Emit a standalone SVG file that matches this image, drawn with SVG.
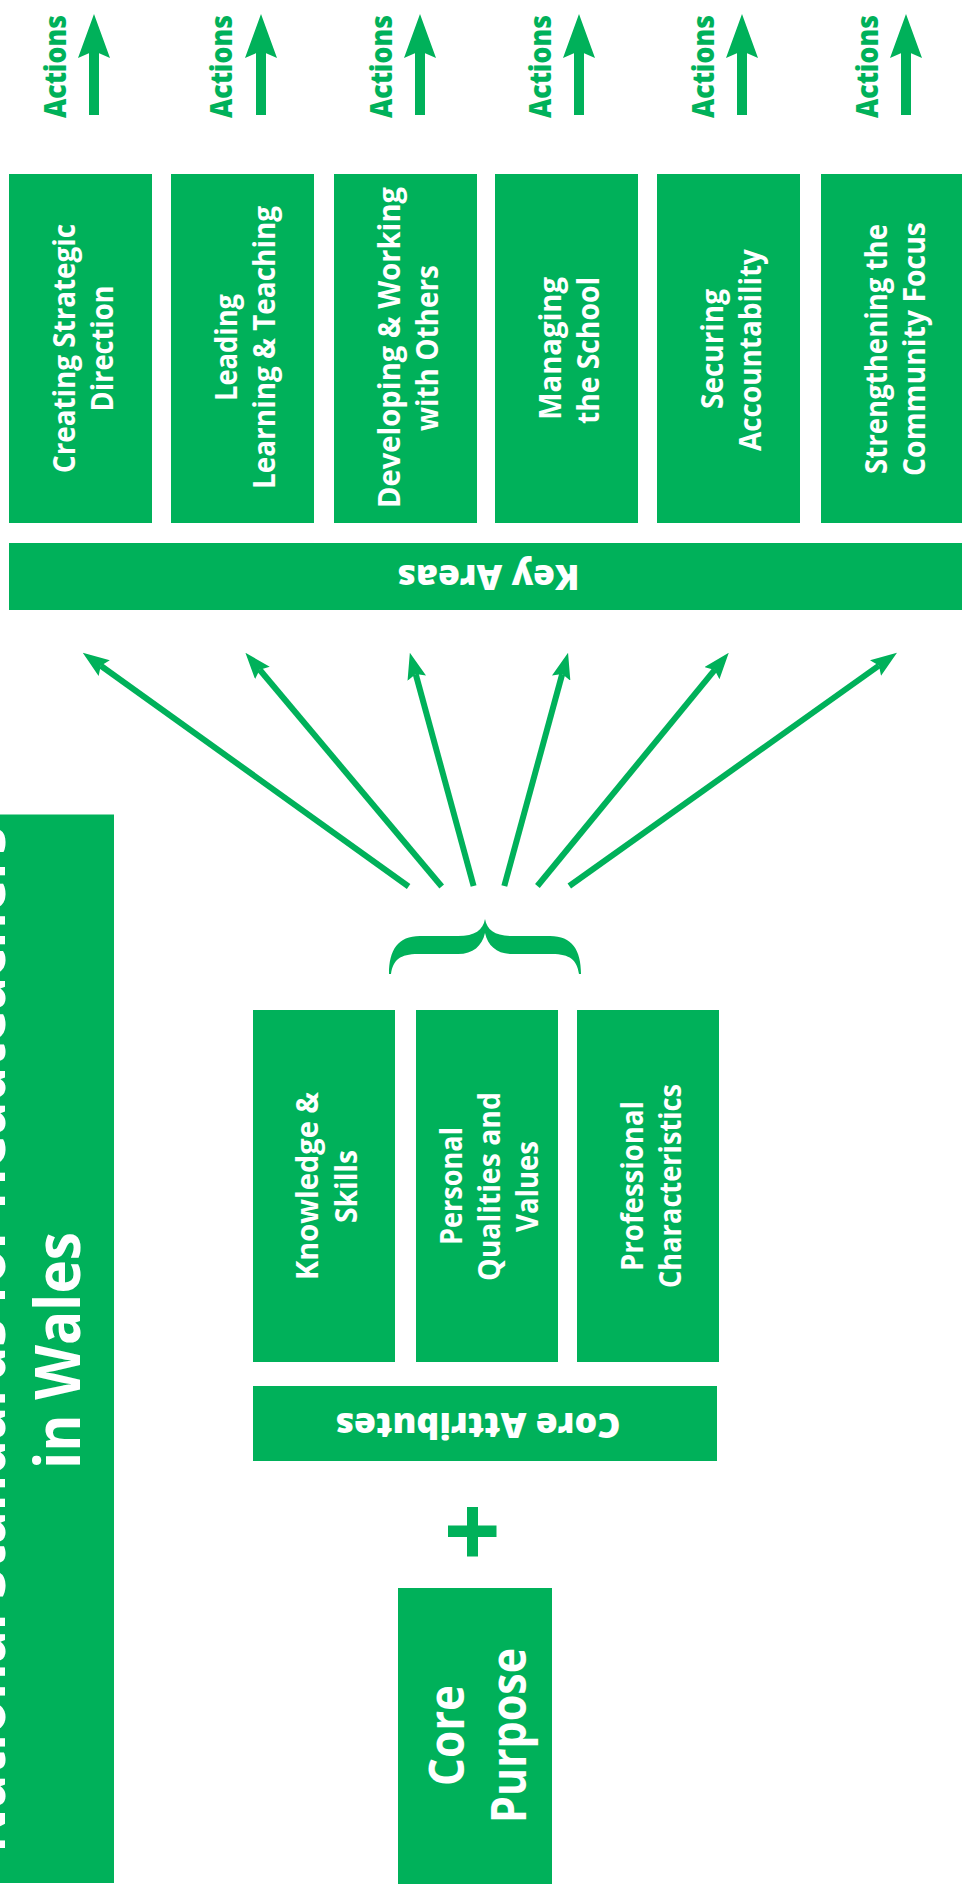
<svg xmlns="http://www.w3.org/2000/svg" width="962" height="1894" viewBox="0 0 962 1894">
<style>
.box{fill:#00b15a}
.lbl{fill:#ffffff;font-family:"Open Sans","Noto Sans","Liberation Sans",sans-serif;font-weight:700;font-size:30px;text-anchor:middle}
.big{font-size:36px;font-weight:800}
.ttl{font-size:62px;font-weight:700}
.cp{font-size:48px;font-weight:700}
.act{fill:#00b15a;font-family:"Open Sans","Noto Sans","Liberation Sans",sans-serif;font-weight:800;font-size:30px;text-anchor:middle}
.conn{stroke:#00b15a;fill:none}
</style>
<defs>
<marker id="ah" markerUnits="strokeWidth" viewBox="0 0 4.4 3.2" markerWidth="4.4" markerHeight="3.2" refX="0.7" refY="1.6" orient="auto">
<path d="M0,0 L4.4,1.6 L0,3.2 L0.7,1.6 Z" fill="#00b15a"/>
</marker>
</defs>
<rect width="962" height="1894" fill="#ffffff"/>

<g id="connectors">
<g id="actions-arrows" class="conn" stroke-width="10" marker-end="url(#ah)">
<line x1="94" y1="115" x2="94" y2="51"/>
<line x1="261" y1="115" x2="261" y2="51"/>
<line x1="420" y1="115" x2="420" y2="51"/>
<line x1="579" y1="115" x2="579" y2="51"/>
<line x1="742" y1="115" x2="742" y2="51"/>
<line x1="906" y1="115" x2="906" y2="51"/>
</g>
<g id="fan-arrows" class="conn" stroke-width="6" marker-end="url(#ah)">
<line x1="408.6" y1="886.5" x2="100.8" y2="665.7"/>
<line x1="441.7" y1="886.5" x2="259.7" y2="669.7"/>
<line x1="473.6" y1="886" x2="415.7" y2="674.1"/>
<line x1="504.3" y1="886" x2="562.2" y2="674.1"/>
<line x1="537.4" y1="886" x2="714.7" y2="669.9"/>
<line x1="569.3" y1="886" x2="878.9" y2="665.6"/>
</g>
</g>

<g id="actions-labels">
<text class="act" transform="translate(65.5,66.5) rotate(-90)" textLength="103" lengthAdjust="spacingAndGlyphs">Actions</text>
<text class="act" transform="translate(232,66.5) rotate(-90)" textLength="103" lengthAdjust="spacingAndGlyphs">Actions</text>
<text class="act" transform="translate(391.5,66.5) rotate(-90)" textLength="103" lengthAdjust="spacingAndGlyphs">Actions</text>
<text class="act" transform="translate(550.5,66.5) rotate(-90)" textLength="103" lengthAdjust="spacingAndGlyphs">Actions</text>
<text class="act" transform="translate(713.5,66.5) rotate(-90)" textLength="103" lengthAdjust="spacingAndGlyphs">Actions</text>
<text class="act" transform="translate(877.5,66.5) rotate(-90)" textLength="103" lengthAdjust="spacingAndGlyphs">Actions</text>
</g>

<g id="ka-creating">
<rect class="box" x="9" y="174" width="143" height="349"/>
<text class="lbl" transform="translate(75,348.5) rotate(-90)" textLength="249" lengthAdjust="spacingAndGlyphs">Creating Strategic</text>
<text class="lbl" transform="translate(113,348.5) rotate(-90)" textLength="126" lengthAdjust="spacingAndGlyphs">Direction</text>
</g>
<g id="ka-leading">
<rect class="box" x="171" y="174" width="143" height="349"/>
<text class="lbl" transform="translate(237,347.5) rotate(-90)" textLength="107" lengthAdjust="spacingAndGlyphs">Leading</text>
<text class="lbl" transform="translate(275,347.5) rotate(-90)" textLength="283" lengthAdjust="spacingAndGlyphs">Learning &amp; Teaching</text>
</g>
<g id="ka-developing">
<rect class="box" x="334" y="174" width="143" height="349"/>
<text class="lbl" transform="translate(400,347.5) rotate(-90)" textLength="321" lengthAdjust="spacingAndGlyphs">Developing &amp; Working</text>
<text class="lbl" transform="translate(438,348) rotate(-90)" textLength="166" lengthAdjust="spacingAndGlyphs">with Others</text>
</g>
<g id="ka-managing">
<rect class="box" x="495" y="174" width="143" height="349"/>
<text class="lbl" transform="translate(561,348.5) rotate(-90)" textLength="143" lengthAdjust="spacingAndGlyphs">Managing</text>
<text class="lbl" transform="translate(599,350.5) rotate(-90)" textLength="147" lengthAdjust="spacingAndGlyphs">the School</text>
</g>
<g id="ka-securing">
<rect class="box" x="657" y="174" width="143" height="349"/>
<text class="lbl" transform="translate(723,349) rotate(-90)" textLength="120" lengthAdjust="spacingAndGlyphs">Securing</text>
<text class="lbl" transform="translate(761,350) rotate(-90)" textLength="202" lengthAdjust="spacingAndGlyphs">Accountability</text>
</g>
<g id="ka-strengthening">
<rect class="box" x="821" y="174" width="145" height="349"/>
<text class="lbl" transform="translate(887,349) rotate(-90)" textLength="250" lengthAdjust="spacingAndGlyphs">Strengthening the</text>
<text class="lbl" transform="translate(925,349) rotate(-90)" textLength="254" lengthAdjust="spacingAndGlyphs">Community Focus</text>
</g>

<g id="key-areas">
<rect class="box" x="9" y="543" width="957" height="67"/>
<text class="lbl big" transform="translate(488.5,565) rotate(180)" textLength="182" lengthAdjust="spacingAndGlyphs">Key Areas</text>
</g>

<g id="title">
<rect class="box" x="-2" y="814.5" width="116" height="1068.5"/>
<text class="lbl ttl" transform="translate(5,1340) rotate(-90)" textLength="1026" lengthAdjust="spacingAndGlyphs">National Standards for Headteachers</text>
<text class="lbl ttl" transform="translate(80,1350.5) rotate(-90)" textLength="237" lengthAdjust="spacingAndGlyphs">in Wales</text>
</g>

<g id="brace">
<path fill="#00b15a" d="M389 974 C389 950 398 936 420 936 L458 936 C475 936 483 930 485 919 C487 930 495 936 512 936 L550 936 C572 936 581 950 581 974 L579 974 C577 960 570 954 552 954 L512 954 C497 954 488 946 485 933 C482 946 473 954 458 954 L418 954 C400 954 393 960 391 974 Z"/>
</g>

<g id="ca-knowledge">
<rect class="box" x="253" y="1010" width="142" height="352"/>
<text class="lbl" transform="translate(318,1186) rotate(-90)" textLength="188" lengthAdjust="spacingAndGlyphs">Knowledge &amp;</text>
<text class="lbl" transform="translate(357,1186.5) rotate(-90)" textLength="73" lengthAdjust="spacingAndGlyphs">Skills</text>
</g>
<g id="ca-personal">
<rect class="box" x="416" y="1010" width="142" height="352"/>
<text class="lbl" transform="translate(462,1186) rotate(-90)" textLength="118" lengthAdjust="spacingAndGlyphs">Personal</text>
<text class="lbl" transform="translate(500,1186.5) rotate(-90)" textLength="189" lengthAdjust="spacingAndGlyphs">Qualities and</text>
<text class="lbl" transform="translate(538,1186.5) rotate(-90)" textLength="91" lengthAdjust="spacingAndGlyphs">Values</text>
</g>
<g id="ca-professional">
<rect class="box" x="577" y="1010" width="142" height="352"/>
<text class="lbl" transform="translate(642.5,1186) rotate(-90)" textLength="170" lengthAdjust="spacingAndGlyphs">Professional</text>
<text class="lbl" transform="translate(680.5,1186) rotate(-90)" textLength="204" lengthAdjust="spacingAndGlyphs">Characteristics</text>
</g>

<g id="core-attributes">
<rect class="box" x="253" y="1386" width="464" height="75"/>
<text class="lbl big" transform="translate(478,1413) rotate(180)" textLength="285" lengthAdjust="spacingAndGlyphs">Core Attributes</text>
</g>

<g id="plus">
<rect fill="#00b15a" x="467" y="1507" width="11" height="49.5"/>
<rect fill="#00b15a" x="448" y="1525.5" width="48.5" height="11.5"/>
</g>

<g id="core-purpose">
<rect class="box" x="398" y="1588" width="154" height="296"/>
<text class="lbl cp" transform="translate(464,1735.5) rotate(-90)" textLength="101" lengthAdjust="spacingAndGlyphs">Core</text>
<text class="lbl cp" transform="translate(526,1735.5) rotate(-90)" textLength="175" lengthAdjust="spacingAndGlyphs">Purpose</text>
</g>
</svg>
